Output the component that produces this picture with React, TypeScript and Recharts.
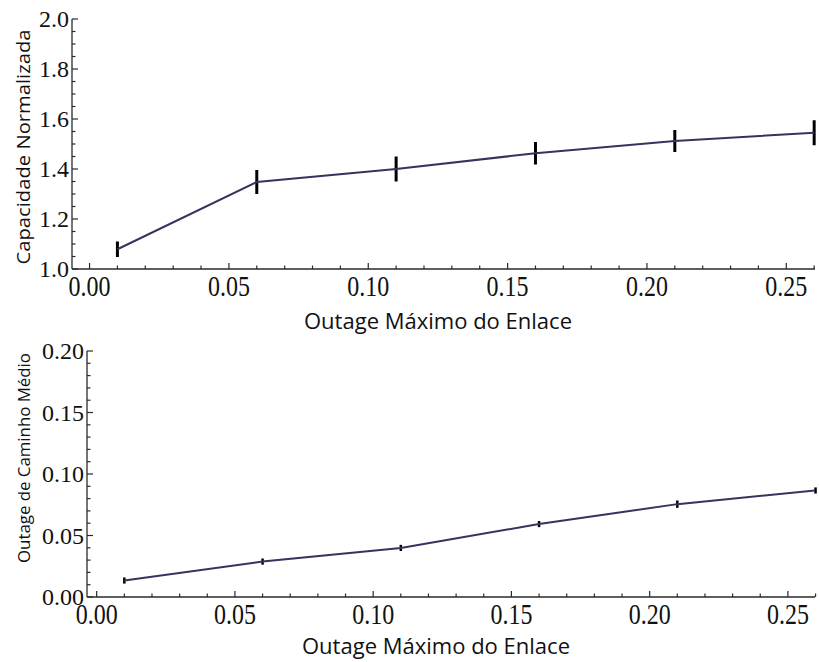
import React from "react";
import { LineChart, Line, XAxis, YAxis, ErrorBar } from "recharts";

// dados
const outageMaximo = [0.01, 0.06, 0.11, 0.16, 0.21, 0.26];
const capacidade = [1.079, 1.348, 1.4, 1.463, 1.512, 1.545];
const capacidadeErr = [0.031, 0.048, 0.05, 0.045, 0.044, 0.05];
const outageCaminho = [0.0134, 0.0288, 0.0399, 0.0593, 0.0755, 0.0866];
const outageCaminhoErr = [0.0025, 0.0025, 0.0025, 0.0025, 0.003, 0.0025];

// ticks
const xMajor = [0, 0.05, 0.1, 0.15, 0.2, 0.25];
const xTicks = [
  0, 0.01, 0.02, 0.03, 0.04, 0.05, 0.06, 0.07, 0.08, 0.09, 0.1, 0.11, 0.12, 0.13,
  0.14, 0.15, 0.16, 0.17, 0.18, 0.19, 0.2, 0.21, 0.22, 0.23, 0.24, 0.25, 0.26,
];
const capMajor = [1.0, 1.2, 1.4, 1.6, 1.8, 2.0];
const capTicks = [
  1.0, 1.05, 1.1, 1.15, 1.2, 1.25, 1.3, 1.35, 1.4, 1.45, 1.5, 1.55, 1.6, 1.65, 1.7,
  1.75, 1.8, 1.85, 1.9, 1.95, 2.0,
];
const outMajor = [0, 0.05, 0.1, 0.15, 0.2];
const outTicks = [
  0, 0.01, 0.02, 0.03, 0.04, 0.05, 0.06, 0.07, 0.08, 0.09, 0.1, 0.11, 0.12, 0.13,
  0.14, 0.15, 0.16, 0.17, 0.18, 0.19, 0.2,
];

const topData = outageMaximo.map((x, i) => ({ x, y: capacidade[i], err: capacidadeErr[i] }));
const bottomData = outageMaximo.map((x, i) => ({ x, y: outageCaminho[i], err: outageCaminhoErr[i] }));

const FRAME = "#2a2a2a";
const LINE_COLOR = "#34345e";
const SERIF = "'Liberation Serif', 'Times New Roman', serif";
const SANS = "'Open Sans', 'Noto Sans', sans-serif";

const isMajor = (v: number, majors: number[]) => majors.some((m) => Math.abs(m - v) < 1e-9);

const BottomTick = ({ x, y, payload, majors, labelDy, digits }: any) => {
  const major = isMajor(payload.value, majors);
  return (
    <g>
      <line x1={x} x2={x} y1={y} y2={y - (major ? 6 : 3.5)} stroke={FRAME} strokeWidth={1.2} />
      {major && (
        <g transform={`translate(${x},${y + labelDy}) scale(1,1.2)`}>
          <text textAnchor="middle" fontFamily={SERIF} fontSize={24} fill="#111">
            {payload.value.toFixed(digits)}
          </text>
        </g>
      )}
    </g>
  );
};

const TopTick = ({ x, y, payload, majors }: any) => {
  const major = isMajor(payload.value, majors);
  return <line x1={x} x2={x} y1={y} y2={y + (major ? 6 : 3.5)} stroke={FRAME} strokeWidth={1.2} />;
};

const LeftTick = ({ x, y, payload, majors, digits }: any) => {
  const major = isMajor(payload.value, majors);
  return (
    <g>
      <line x1={x} x2={x + (major ? 6 : 3.5)} y1={y} y2={y} stroke={FRAME} strokeWidth={1.2} />
      {major && (
        <text x={x - 3} y={y} dy="0.34em" textAnchor="end" fontFamily={SERIF} fontSize={24} fill="#111">
          {payload.value.toFixed(digits)}
        </text>
      )}
    </g>
  );
};

const RightTick = ({ x, y, payload, majors }: any) => {
  const major = isMajor(payload.value, majors);
  return <line x1={x} x2={x - (major ? 6 : 3.5)} y1={y} y2={y} stroke={FRAME} strokeWidth={1.2} />;
};

interface PanelProps {
  data: { x: number; y: number; err: number }[];
  height: number;
  marginTop: number;
  yAxisWidth: number;
  xAxisHeight: number;
  xDomain: [number, number];
  yDomain: [number, number];
  yTicks: number[];
  yMajor: number[];
  yDigits: number;
  yTitle: string;
  yTitleCy: number;
  yTitleLength: number;
  yTitleSize: number;
  xTitleCx: number;
  xTitleDy: number;
  xLabelDy: number;
  errWidth: number;
}

function Panel(p: PanelProps) {
  return (
    <LineChart
      width={819}
      height={p.height}
      data={p.data}
      margin={{ top: p.marginTop, right: 4, bottom: 0, left: 0 }}
    >
      <XAxis
        xAxisId="b"
        type="number"
        dataKey="x"
        domain={p.xDomain}
        allowDataOverflow
        ticks={xTicks}
        interval={0}
        height={p.xAxisHeight}
        tickSize={0}
        tickMargin={0}
        tickLine={false}
        axisLine={{ stroke: FRAME, strokeWidth: 1.3 }}
        tick={(t: any) => <BottomTick {...t} majors={xMajor} labelDy={p.xLabelDy} digits={2} />}
        label={{
          content: ({ viewBox }: any) => (
            <text
              x={p.xTitleCx}
              y={viewBox.y + p.xTitleDy}
              textAnchor="middle"
              fontFamily={SANS}
              fontSize={22}
              fill="#111"
              textLength={268}
              lengthAdjust="spacingAndGlyphs"
            >
              Outage Máximo do Enlace
            </text>
          ),
        }}
      />
      <XAxis
        xAxisId="t"
        orientation="top"
        type="number"
        domain={p.xDomain}
        allowDataOverflow
        ticks={xTicks}
        interval={0}
        height={0}
        tickSize={0}
        tickMargin={0}
        tickLine={false}
        axisLine={{ stroke: FRAME, strokeWidth: 1.3 }}
        tick={(t: any) => <TopTick {...t} majors={xMajor} />}
      />
      <YAxis
        yAxisId="l"
        type="number"
        domain={p.yDomain}
        allowDataOverflow
        ticks={p.yTicks}
        interval={0}
        width={p.yAxisWidth}
        tickSize={0}
        tickMargin={0}
        tickLine={false}
        axisLine={{ stroke: FRAME, strokeWidth: 1.3 }}
        tick={(t: any) => <LeftTick {...t} majors={p.yMajor} digits={p.yDigits} />}
        label={{
          content: () => (
            <text
              x={23}
              y={p.yTitleCy}
              transform={`rotate(-90, 23, ${p.yTitleCy})`}
              textAnchor="middle"
              dominantBaseline="central"
              fontFamily={SANS}
              fontSize={p.yTitleSize}
              fill="#111"
              textLength={p.yTitleLength}
              lengthAdjust="spacingAndGlyphs"
            >
              {p.yTitle}
            </text>
          ),
        }}
      />
      <YAxis
        yAxisId="r"
        orientation="right"
        type="number"
        domain={p.yDomain}
        allowDataOverflow
        ticks={p.yTicks}
        interval={0}
        width={0}
        tickSize={0}
        tickMargin={0}
        tickLine={false}
        axisLine={{ stroke: FRAME, strokeWidth: 1.3 }}
        tick={(t: any) => <RightTick {...t} majors={p.yMajor} />}
      />
      <Line
        xAxisId="b"
        yAxisId="l"
        dataKey="y"
        stroke={LINE_COLOR}
        strokeWidth={2}
        dot={false}
        activeDot={false}
        isAnimationActive={false}
      >
        <ErrorBar dataKey="err" direction="y" width={0} stroke="#000" strokeWidth={p.errWidth} isAnimationActive={false} />
      </Line>
    </LineChart>
  );
}

export default function App() {
  return (
    <div style={{ position: "absolute", left: 0, top: 0, width: 819, height: 662, background: "#fff" }}>
      <Panel
        data={topData}
        height={336}
        marginTop={19}
        yAxisWidth={72}
        xAxisHeight={67}
        xDomain={[-0.0063, 0.2603]}
        yDomain={[1, 2]}
        yTicks={capTicks}
        yMajor={capMajor}
        yDigits={1}
        yTitle="Capacidade Normalizada"
        yTitleCy={147}
        yTitleLength={235}
        yTitleSize={19}
        xTitleCx={438}
        xTitleDy={60}
        xLabelDy={27}
        errWidth={3}
      />
      <Panel
        data={bottomData}
        height={326}
        marginTop={15}
        yAxisWidth={87}
        xAxisHeight={65}
        xDomain={[-0.0035, 0.2598]}
        yDomain={[0, 0.2]}
        yTicks={outTicks}
        yMajor={outMajor}
        yDigits={2}
        yTitle="Outage de Caminho Médio"
        yTitleCy={122}
        yTitleLength={210}
        yTitleSize={17}
        xTitleCx={436}
        xTitleDy={57}
        xLabelDy={27}
        errWidth={2.5}
      />
    </div>
  );
}
